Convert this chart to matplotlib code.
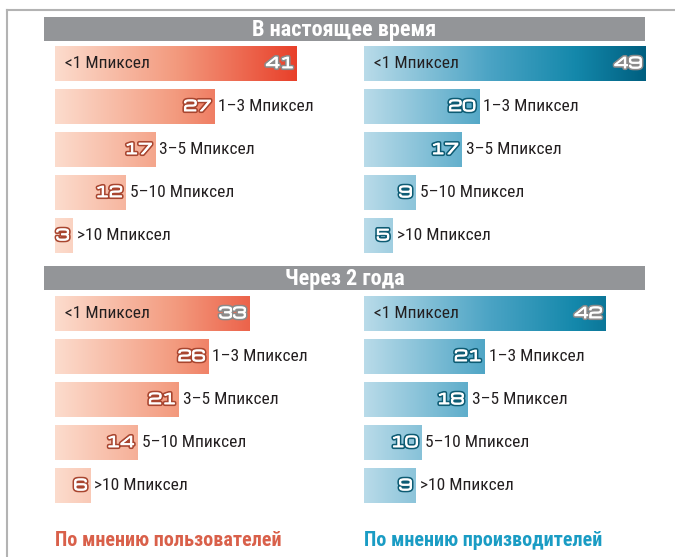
import numpy as np
import matplotlib
matplotlib.use("Agg")
import matplotlib.pyplot as plt
import matplotlib.patheffects as pe
import matplotlib.transforms as mtransforms
from matplotlib.colors import LinearSegmentedColormap
from matplotlib.lines import Line2D

# данные
categories = ["<1 Мпиксел", "1–3 Мпиксел", "3–5 Мпиксел", "5–10 Мпиксел", ">10 Мпиксел"]
users_now = [41, 27, 17, 12, 3]
makers_now = [49, 20, 17, 9, 5]
users_2y = [33, 26, 21, 14, 6]
makers_2y = [42, 21, 18, 10, 9]
sections = ["В настоящее время", "Через 2 года"]
legend_users = "По мнению пользователей"
legend_makers = "По мнению производителей"

W, H = 675, 557
COND = ["Roboto Condensed", "PT Sans Narrow", "DejaVu Sans"]
WIDE = ["Michroma", "DejaVu Sans"]

orange = LinearSegmentedColormap.from_list(
    "or", [(0, "#fcdccd"), (0.5, "#f39a7e"), (1, "#e8402a")])
blue = LinearSegmentedColormap.from_list(
    "bl", [(0, "#b9dbe9"), (0.45, "#4aa3c4"), (0.75, "#1488ab"), (1, "#005f80")])

fig = plt.figure(figsize=(W / 100, H / 100), dpi=100)


def px_axes(x0, y0, w, h):
    return fig.add_axes([x0 / W, 1 - (y0 + h) / H, w / W, h / H])


def header(y0, text):
    ax = px_axes(44, y0, 601, 24)
    ax.set_facecolor("#939598")
    ax.set_xticks([])
    ax.set_yticks([])
    for s in ax.spines.values():
        s.set_visible(False)
    ax.text(0.5, 0.47, text, transform=ax.transAxes, ha="center", va="center",
            color="white", fontsize=16, fontweight="bold", family=COND)


def panel(x0, y0, values, cmap, gmax, edge, px_per_unit):
    width = 300
    ax = px_axes(x0, y0, width, 215)
    ax.axis("off")
    ypos = np.arange(len(values))
    bars = ax.barh(ypos, values, height=35 / 43, color="none", edgecolor="none")
    grad = np.linspace(0, 1, 256).reshape(1, -1)
    for b in bars:
        im = ax.imshow(grad, cmap=cmap, aspect="auto", extent=[0, gmax, -0.5, len(values) - 0.5],
                       origin="lower", zorder=1)
        im.set_clip_path(b)
    ax.set_xlim(0, width / px_per_unit)
    ax.set_ylim(len(values) - 0.5, -0.5)
    for i, (v, cat) in enumerate(zip(values, categories)):
        # на тёмном конце первой полосы обводка светлая
        ec = "#8a8a8a" if i == 0 else edge
        val_tr = mtransforms.offset_copy(ax.transData, fig=fig, x=-3, y=0, units="dots")
        ax.text(v, i, str(v), transform=val_tr, ha="right", va="center", color="white",
                fontsize=10.5, family=WIDE, zorder=3,
                path_effects=[pe.withStroke(linewidth=3.0, foreground=ec),
                              pe.withStroke(linewidth=0.7, foreground="white")])
        if i == 0:
            lab_tr = mtransforms.offset_copy(ax.transData, fig=fig, x=10, y=0, units="dots")
            ax.text(0, i, cat, transform=lab_tr, ha="left", va="center", color="#231f20",
                    fontsize=12.5, family=COND, zorder=3)
        else:
            lab_tr = mtransforms.offset_copy(ax.transData, fig=fig, x=4, y=0, units="dots")
            ax.text(v, i, cat, transform=lab_tr, ha="left", va="center", color="#231f20",
                    fontsize=12.5, family=COND, zorder=3)


header(17, sections[0])
header(266, sections[1])

gmax_u = max(users_now)
gmax_m = max(makers_now)
panel(55, 42, users_now, orange, gmax_u, "#a8452f", 5.9)
panel(364, 42, makers_now, blue, gmax_m, "#0d5b73", 5.75)
panel(55, 292, users_2y, orange, gmax_u, "#a8452f", 5.9)
panel(364, 292, makers_2y, blue, gmax_m, "#0d5b73", 5.75)

# рамка
fig.add_artist(Line2D([7 / W, 1], [1 - 10 / H, 1 - 10 / H], color="#b3b3b3", lw=1.5))
fig.add_artist(Line2D([7 / W, 7 / W], [0, 1 - 10 / H], color="#b3b3b3", lw=1.5))

fig.text(55 / W, 1 - 541 / H, legend_users, ha="left", va="center", color="#d9604a",
         fontsize=14.5, fontweight="bold", family=COND)
fig.text(364 / W, 1 - 541 / H, legend_makers, ha="left", va="center", color="#1a9cc4",
         fontsize=14.5, fontweight="bold", family=COND)

fig.savefig("out.png", dpi=100, facecolor="white")
